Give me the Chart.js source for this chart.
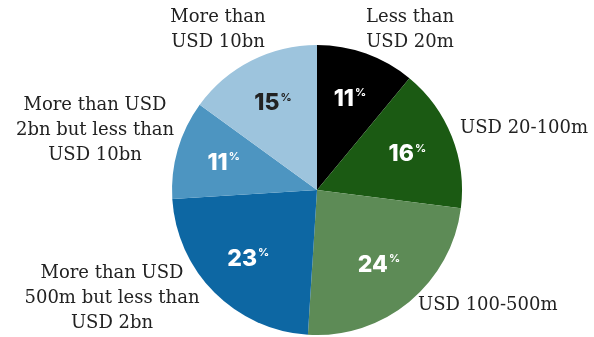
<!DOCTYPE html>
<html>
<head>
<meta charset="utf-8">
<script src="https://cdn.jsdelivr.net/npm/chart.js@4"></script>
<style>
  html, body { margin: 0; padding: 0; background: #fff; }
  #wrap { width: 594px; height: 337px; position: relative; }
</style>
</head>
<body>
<div id="wrap"><canvas id="pie"></canvas></div>
<script>
// chart data
let categories = [
  ["Less than", "USD 20m"],
  ["USD 20-100m"],
  ["USD 100-500m"],
  ["More than USD", "500m but less than", "USD 2bn"],
  ["More than USD", "2bn but less than", "USD 10bn"],
  ["More than", "USD 10bn"]
];
let shares = [11, 16, 24, 23, 11, 15];
let sliceColors = ["#000000", "#1b5a13", "#5d8b56", "#0d67a3", "#4d95c1", "#9dc4dd"];
let pctColors = ["#fff", "#fff", "#fff", "#fff", "#fff", "#222"];

// where each outside label sits, relative to the pie centre (px) + alignment
let labelSpots = [
  {dx: 93, dy: -173, align: "center"},
  {dx: 143, dy: -62, align: "left"},
  {dx: 101, dy: 115, align: "left"},
  {dx: -205, dy: 83, align: "center"},
  {dx: -222, dy: -85, align: "center"},
  {dx: -99, dy: -173, align: "center"}
];

const labelPlugin = {
  id: "labelPlugin",
  afterDatasetsDraw(chart) {
    let ctx = chart.ctx;
    let arcs = chart.getDatasetMeta(0).data;
    let total = shares.reduce((a, b) => a + b, 0);
    arcs.forEach((arc, i) => {
      let p = arc.getProps(["x", "y", "startAngle", "endAngle", "outerRadius"], true);
      let mid = (p.startAngle + p.endAngle) / 2;
      let r = p.outerRadius * 0.67;
      let x = p.x + Math.cos(mid) * r;
      let y = p.y + Math.sin(mid) * r;
      let pct = Math.round(shares[i] / total * 100);

      ctx.save();
      ctx.fillStyle = pctColors[i];
      ctx.textBaseline = "middle";
      ctx.font = "800 23px Inter";
      let numW = ctx.measureText(pct).width;
      ctx.font = "700 11px Inter";
      let sigW = ctx.measureText("%").width;
      let left = x - (numW + sigW + 1) / 2;
      ctx.textAlign = "left";
      ctx.font = "800 23px Inter";
      ctx.fillText(pct, left, y);
      ctx.font = "700 11px Inter";
      ctx.fillText("%", left + numW + 1, y - 6);
      ctx.restore();

      // outside category label
      let spot = labelSpots[i];
      ctx.save();
      ctx.fillStyle = "#222";
      ctx.font = "18px 'DejaVu Serif'";
      ctx.textAlign = spot.align;
      ctx.textBaseline = "middle";
      categories[i].forEach((line, k) => {
        ctx.fillText(line, p.x + spot.dx, p.y + spot.dy + k * 25);
      });
      ctx.restore();
    });
  }
};

new Chart(document.getElementById("pie"), {
  type: "pie",
  data: {
    labels: categories.map(c => c.join(" ")),
    datasets: [{
      data: shares,
      backgroundColor: sliceColors,
      borderWidth: 0
    }]
  },
  options: {
    responsive: true,
    maintainAspectRatio: false,
    animation: false,
    layout: { padding: { top: 45, bottom: 2, left: 172, right: 132 } },
    plugins: {
      legend: { display: false },
      tooltip: { enabled: false }
    }
  },
  plugins: [labelPlugin]
});
</script>
</body>
</html>
